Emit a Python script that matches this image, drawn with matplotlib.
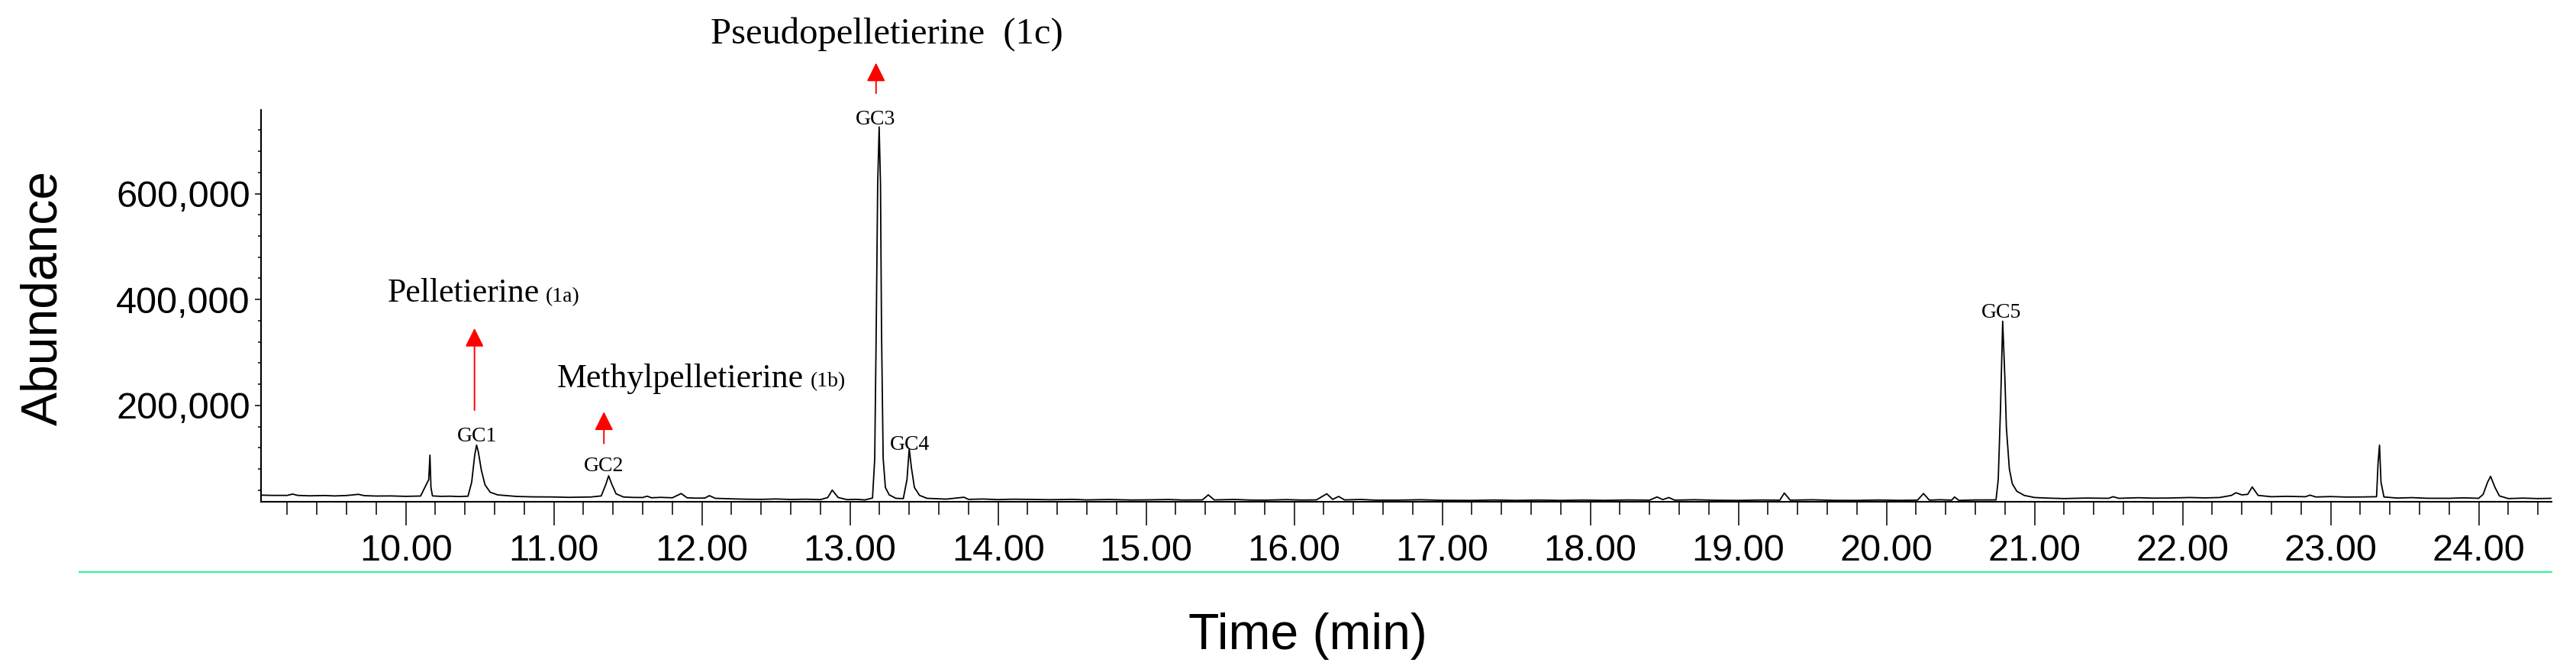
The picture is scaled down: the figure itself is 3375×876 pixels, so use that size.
import matplotlib
matplotlib.use("Agg")
import matplotlib.pyplot as plt
from matplotlib.ticker import MultipleLocator
from matplotlib.lines import Line2D

plt.rcParams['font.family'] = ['Liberation Sans', 'DejaVu Sans']

# chromatogram trace (time in min, abundance)
time_min = [
    9.02, 9.10, 9.20, 9.235, 9.27, 9.35, 9.45, 9.52, 9.60, 9.68, 9.72, 9.80, 9.90, 10.00, 10.10,
    10.155, 10.163, 10.17, 10.18, 10.24, 10.30, 10.36, 10.42,
    10.445, 10.465, 10.478, 10.49, 10.51, 10.535, 10.57, 10.62, 10.75,
    10.85, 11.00, 11.10, 11.25, 11.32, 11.35, 11.37, 11.39, 11.42, 11.47,
    11.53, 11.60, 11.63, 11.66, 11.72, 11.80, 11.86, 11.90, 11.96, 12.02, 12.05, 12.09,
    12.20, 12.30, 12.40, 12.50, 12.60, 12.70, 12.80, 12.85, 12.88, 12.92, 12.98, 13.04, 13.10,
    13.152, 13.167, 13.177, 13.187, 13.197, 13.206, 13.213, 13.224, 13.239, 13.265,
    13.31, 13.36, 13.385, 13.40, 13.415, 13.435, 13.47, 13.52,
    13.65, 13.77, 13.80, 13.90, 14.00, 14.10, 14.20, 14.35, 14.50, 14.60, 14.75, 14.90, 15.00,
    15.15, 15.25, 15.38, 15.42, 15.46, 15.60, 15.70, 15.80, 15.95, 16.05, 16.15, 16.22, 16.26,
    16.30, 16.34, 16.45, 16.55, 16.70, 16.85, 17.00, 17.20, 17.35, 17.50, 17.65, 17.80,
    17.95, 18.10, 18.25, 18.40, 18.45, 18.49, 18.53, 18.57, 18.70, 18.85,
    19.00, 19.15, 19.28, 19.31, 19.35, 19.50, 19.65, 19.80, 19.95, 20.08, 20.21, 20.25, 20.29,
    20.36, 20.44, 20.46, 20.49, 20.60,
    20.74, 20.755, 20.77, 20.785, 20.80, 20.81, 20.83, 20.85, 20.88, 20.93,
    21.00, 21.10, 21.20, 21.35, 21.50, 21.53, 21.57, 21.70, 21.80, 21.90, 22.05, 22.15,
    22.25, 22.33, 22.36, 22.40, 22.44, 22.47, 22.51, 22.60, 22.70,
    22.83, 22.86, 22.90, 23.00, 23.10, 23.20,
    23.31, 23.32, 23.33, 23.34, 23.36, 23.45, 23.55, 23.65, 23.80, 23.90,
    24.00, 24.03, 24.06, 24.08, 24.11, 24.14, 24.20, 24.30, 24.40, 24.49,
]
abundance = [
    30500, 30000, 30000, 32500, 30000, 29200, 29800, 29000, 29800, 32000, 29500, 28800, 29000, 28200, 28800,
    60000, 106000, 45000, 29000, 28200, 28500, 27800, 28500,
    55000, 105000, 125000, 112000, 78000, 50000, 36000, 31000, 28000,
    27300, 27000, 26300, 27000, 29000, 50000, 67000, 52000, 33000, 27000,
    26200, 26000, 28500, 25500, 26300, 25500, 33500, 25500, 24800, 25000, 29500, 24500,
    23500, 22800, 22500, 23300, 22300, 22800, 22000, 26000, 40000, 26000, 22000, 22600, 21500,
    25000, 99000, 340000, 618000, 726000, 618000, 340000, 100000, 45000, 31000,
    24500, 24000, 60000, 118000, 82000, 45000, 30000, 24500,
    23000, 26500, 22500, 23200, 22000, 22800, 22500, 21800, 22500, 21500, 22200, 21300, 21500,
    22200, 21300, 21500, 31000, 21500, 22300, 21200, 21000, 22000, 21200, 21500, 33000, 22500,
    28000, 21500, 22300, 21000, 21000, 21800, 20700, 20500, 21300, 20500, 21200, 20500,
    21200, 20600, 21400, 21000, 27000, 22000, 26000, 21000, 21800, 20800,
    20500, 21300, 21000, 34500, 21000, 21700, 20600, 20500, 21300, 20600, 21000, 33500, 21000,
    21800, 21000, 27000, 20500, 21400,
    21500, 60000, 192000, 359000, 250000, 158000, 80000, 52000, 38000, 30000,
    26000, 24800, 24000, 25000, 24500, 27500, 24500, 25600, 24800, 25000, 26000, 25300,
    26000, 30000, 35000, 31000, 32000, 46000, 30000, 27500, 28200,
    27500, 30500, 27000, 27800, 26900, 27000,
    27500, 90000, 125000, 55000, 27000, 25000, 25800, 24600, 24500, 25400,
    24500, 32000, 55000, 66000, 45000, 29000, 24000, 24900, 24000, 24500,
]

# peak tags
peak_names = ['GC1', 'GC2', 'GC3', 'GC4', 'GC5']
peak_label_x = [10.482, 11.335, 13.171, 13.404, 20.776]
peak_label_y = [131700, 75400, 731000, 116000, 365000]

# compound names with red arrows
compound_names = ['Pelletierine', 'Methylpelletierine']
compound_tags = ['(1a)', '(1b)']
compound_x = [9.878, 11.022]
compound_tag_x = [10.946, 12.73]
compound_y = [396000, 235000]
pseudo_name = 'Pseudopelletierine  (1c)'
pseudo_x = 13.25
pseudo_y = 884500
arrow_x = [10.464, 11.338, 13.176]
arrow_tail = [190900, 128200, 789600]
arrow_tip = [345800, 188000, 847000]

x_ticks = [10, 11, 12, 13, 14, 15, 16, 17, 18, 19, 20, 21, 22, 23, 24]
x_tick_labels = ['10.00', '11.00', '12.00', '13.00', '14.00', '15.00', '16.00',
                 '17.00', '18.00', '19.00', '20.00', '21.00', '22.00', '23.00', '24.00']
y_ticks = [200000, 400000, 600000]
y_tick_labels = ['200,000', '400,000', '600,000']

fig = plt.figure(figsize=(33.75, 8.76), dpi=100)
ax = fig.add_axes([0.1012, 0.25, 0.8892, 0.5856])

ax.plot(time_min, abundance, color='black', lw=1.3)

ax.set_xlim(9.02, 24.49)
ax.set_ylim(18000, 758000)
ax.spines['top'].set_visible(False)
ax.spines['right'].set_visible(False)
ax.spines['left'].set_linewidth(1.5)
ax.spines['bottom'].set_linewidth(1.5)

ax.set_xticks(x_ticks)
ax.set_xticklabels(x_tick_labels)
ax.set_yticks(y_ticks)
ax.set_yticklabels(y_tick_labels)
ax.xaxis.set_minor_locator(MultipleLocator(0.2))
ax.yaxis.set_minor_locator(MultipleLocator(40000))
ax.tick_params(axis='x', which='major', length=22, width=1.1, pad=8, labelsize=35)
ax.tick_params(axis='x', which='minor', length=12, width=1.1)
ax.tick_params(axis='y', which='major', length=6, width=1.1, pad=4, labelsize=35)
ax.tick_params(axis='y', which='minor', length=3, width=1.1)

for name, x, y in zip(peak_names, peak_label_x, peak_label_y):
    ax.text(x, y, name, ha='center', va='baseline', fontsize=20,
            family='Liberation Serif')

for name, tag, x, tx, y in zip(compound_names, compound_tags, compound_x,
                               compound_tag_x, compound_y):
    ax.text(x, y, name, ha='left', va='baseline', fontsize=31.5,
            family='Liberation Serif')
    ax.text(tx, y, tag, ha='left', va='baseline', fontsize=20,
            family='Liberation Serif')

ax.text(pseudo_x, pseudo_y, pseudo_name, ha='center', va='baseline',
        fontsize=35, family='Liberation Serif')

for x, y0, y1 in zip(arrow_x, arrow_tail, arrow_tip):
    ax.annotate('', xy=(x, y1), xytext=(x, y0), annotation_clip=False,
                arrowprops=dict(arrowstyle='-|>,head_length=1.0,head_width=0.5',
                                color='red', lw=1.4, mutation_scale=15,
                                shrinkA=0, shrinkB=0))

fig.text(0.017, 0.5548, 'Abundance', rotation=90, ha='center', va='center',
         fontsize=47.5)
fig.text(0.5076, 0.0297, 'Time (min)', ha='center', va='baseline', fontsize=47.5)

fig.add_artist(Line2D([0.0308, 0.9905], [0.145, 0.145], color='#2ef593', lw=1.5))

fig.savefig('out.png', dpi=100)
